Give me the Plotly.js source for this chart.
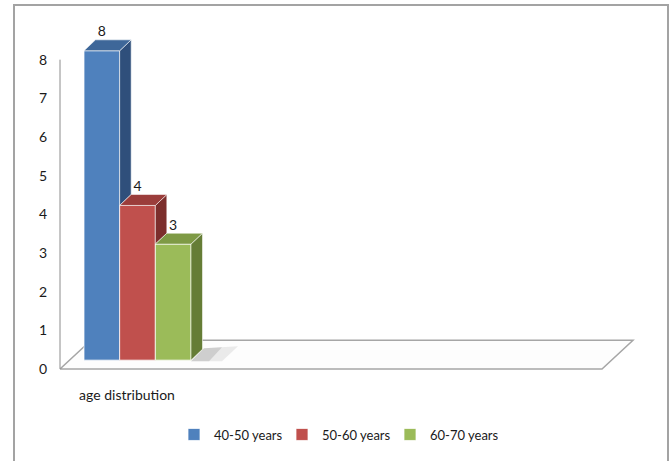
<!DOCTYPE html>
<html>
<head>
<meta charset="utf-8">
<script src="https://cdn.plot.ly/plotly-3.0.1.min.js"></script>
<style>
  html, body { margin: 0; padding: 0; background: #ffffff; }
  #wrap { position: relative; width: 672px; height: 461px; overflow: hidden; }
  #chart { width: 672px; height: 461px; }
  #frame { position: absolute; left: 13px; top: 4px; width: 652px; height: 480px;
           border: 2px solid #a3a3a3; border-bottom: none; pointer-events: none; }
</style>
</head>
<body>
<div id="wrap">
  <div id="chart"></div>
  <div id="frame"></div>
</div>
<script>
// ---- data ----
const categories = ["age distribution"];
const seriesNames = ["40-50 years", "50-60 years", "60-70 years"];
const values = [8, 4, 3];
const yTickValues = [0, 1, 2, 3, 4, 5, 6, 7, 8];
const yTickLabels = ["0", "1", "2", "3", "4", "5", "6", "7", "8"];

// ---- styles ----
const frontColors = ["#4F81BD", "#C0504D", "#9BBB59"];
const topColors   = ["#3E6799", "#9B3D3B", "#7E9A45"];
const sideColors  = ["#2F4F7B", "#7C2E2C", "#657D36"];
const FONT = "Lato, 'Open Sans', sans-serif";

// ---- layout geometry (pixels) ----
const W = 672, H = 461;
const PL = 60, PR = 640, PT = 20, PB = 380;
const yZeroFront = 372, yZeroBack = 363, pyu = 39;   // px per unit
const xCatFront = 127, xCatBack = 137.5, pxu = 107;  // px per category
const depthPx = 11.5, risePx = 11;                   // 3D bar depth

const xr1 = [(PL - xCatFront) / pxu, (PR - xCatFront) / pxu];
const yr1 = [(yZeroFront - PB) / pyu, (yZeroFront - PT) / pyu];
const xr2 = [(PL - xCatBack) / pxu, (PR - xCatBack) / pxu];
const yr2 = [(yZeroBack - PB) / pyu, (yZeroBack - PT) / pyu];

const px2x = p => (p - xCatFront) / pxu;
const px2y = p => (yZeroFront - p) / pyu;

const dX = depthPx / pxu, dY = risePx / pyu;
const n = seriesNames.length;
const bw = 1 / n;

const traces = [];
// front faces: real bars
seriesNames.forEach((name, i) => {
  traces.push({
    type: "bar", name: name,
    x: [0], y: [values[i]],
    xaxis: "x2", yaxis: "y2",
    width: bw, offset: -0.5 + i * bw,
    marker: { color: frontColors[i], line: { color: "rgba(255,255,255,0.75)", width: 1 } },
    hoverinfo: "name+y"
  });
});
// side & top faces
seriesNames.forEach((name, i) => {
  const v = values[i];
  const x0 = -0.5 + i * bw, x1 = x0 + bw;
  const bottom = (i < n - 1 && values[i + 1] < v) ? values[i + 1] : 0;
  traces.push({
    type: "scatter", mode: "lines", xaxis: "x2", yaxis: "y2",
    x: [x1, x1 + dX, x1 + dX, x1, x1],
    y: [bottom, bottom + dY, v + dY, v, bottom],
    fill: "toself", fillcolor: sideColors[i],
    line: { color: "rgba(255,255,255,0.55)", width: 1 },
    showlegend: false, hoverinfo: "skip"
  });
  traces.push({
    type: "scatter", mode: "lines", xaxis: "x2", yaxis: "y2",
    x: [x0, x0 + dX, x1 + dX, x1, x0],
    y: [v, v + dY, v + dY, v, v],
    fill: "toself", fillcolor: topColors[i],
    line: { color: "rgba(255,255,255,0.55)", width: 1 },
    showlegend: false, hoverinfo: "skip"
  });
});
// value labels
traces.push({
  type: "scatter", mode: "text", xaxis: "x2", yaxis: "y2",
  x: values.map((v, i) => -0.5 + (i + 0.5) * bw),
  y: values.map(v => v + dY),
  text: values.map(String),
  textposition: "top center",
  textfont: { family: FONT, size: 14, color: "#1a1a1a" },
  showlegend: false, hoverinfo: "skip", cliponaxis: false
});

const toPath = pts => "M" + pts.map(p => px2x(p[0]) + "," + px2y(p[1])).join(" L") + " Z";
const floorPath = toPath([[60, 372], [602, 372], [633, 343], [91, 343]]);
const shadowOuter = toPath([[191, 364], [204, 351], [238, 349], [222, 364]]);
const shadowInner = toPath([[191, 364], [204, 351], [222, 350], [209, 364]]);

const layout = {
  width: W, height: H,
  margin: { l: PL, r: W - PR, t: PT, b: H - PB, pad: 0 },
  paper_bgcolor: "#ffffff", plot_bgcolor: "rgba(0,0,0,0)",
  font: { family: FONT, size: 13, color: "#1a1a1a" },
  barmode: "overlay",
  showlegend: true,
  legend: {
    orientation: "h", x: (174 - PL) / (PR - PL), xanchor: "left",
    y: (PB - 438) / (PB - PT), yanchor: "middle",
    entrywidth: 63, entrywidthmode: "pixels",
    font: { family: FONT, size: 13, color: "#1a1a1a" },
    bgcolor: "rgba(0,0,0,0)"
  },
  xaxis: {
    range: xr1, showgrid: false, zeroline: false, showline: false,
    tickmode: "array", tickvals: categories.map((c, i) => i), ticktext: categories,
    ticks: "", ticklabelstandoff: 8,
    tickfont: { family: FONT, size: 14, color: "#1a1a1a" }, fixedrange: true
  },
  yaxis: {
    range: yr1, showgrid: false, zeroline: false, showline: false,
    tickmode: "array", tickvals: yTickValues, ticktext: yTickLabels,
    ticks: "", ticklabelstandoff: 12,
    tickfont: { family: FONT, size: 14, color: "#1a1a1a" }, fixedrange: true
  },
  xaxis2: { range: xr2, overlaying: "x", visible: false, fixedrange: true },
  yaxis2: { range: yr2, overlaying: "y", visible: false, fixedrange: true },
  shapes: [
    { type: "path", xref: "x", yref: "y", path: floorPath, layer: "below",
      fillcolor: "#fdfdfd", line: { color: "#a6a6a6", width: 1.5 } },
    { type: "path", xref: "x", yref: "y", path: shadowOuter, layer: "below",
      fillcolor: "rgba(150,150,150,0.18)", line: { width: 0 } },
    { type: "path", xref: "x", yref: "y", path: shadowInner, layer: "below",
      fillcolor: "rgba(110,110,110,0.22)", line: { width: 0 } },
    { type: "line", xref: "paper", yref: "y", x0: 0, x1: 0,
      y0: yTickValues[0], y1: yTickValues[yTickValues.length - 1],
      line: { color: "#8c8c8c", width: 1 } }
  ]
};

Plotly.newPlot("chart", traces, layout, { displayModeBar: false, staticPlot: true });
</script>
</body>
</html>
